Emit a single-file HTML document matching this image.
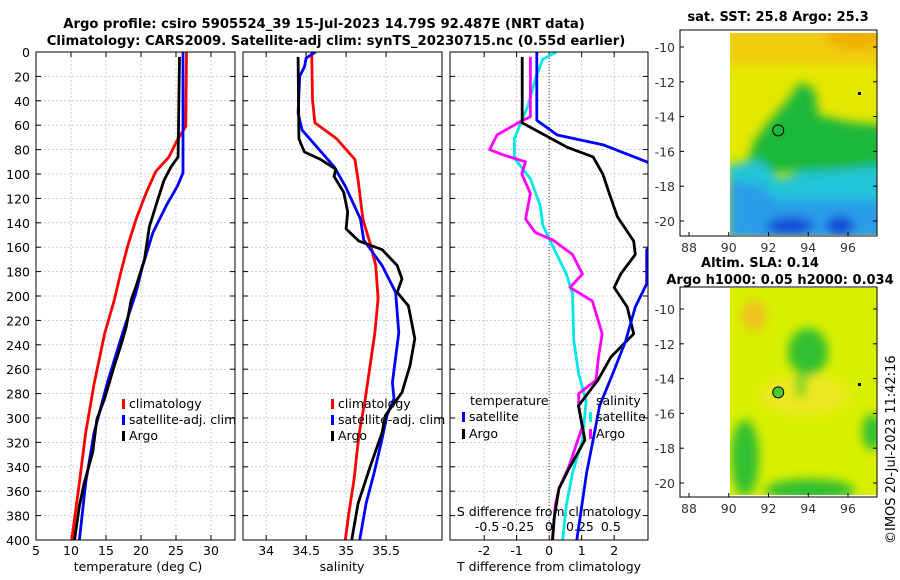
<!DOCTYPE html>
<html><head><meta charset="utf-8"><style>
html,body{margin:0;padding:0;background:#fff;}
svg{display:block;font-family:"DejaVu Sans","Liberation Sans",sans-serif;}
</style></head><body>
<svg id="fig" width="900" height="580" viewBox="0 0 900 580" xmlns="http://www.w3.org/2000/svg">
<defs>
<filter id="blur6" x="-50%" y="-50%" width="200%" height="200%"><feGaussianBlur stdDeviation="5"/></filter>
<clipPath id="cp1"><rect x="36" y="52" width="199" height="488"/></clipPath>
<clipPath id="cp2"><rect x="243" y="52" width="199" height="488"/></clipPath>
<clipPath id="cp3"><rect x="450" y="52" width="198" height="488"/></clipPath>
<clipPath id="cpm1"><rect x="730" y="33" width="147" height="202"/></clipPath>
<clipPath id="cpm2"><rect x="730" y="288" width="147" height="207"/></clipPath>
</defs>
<text x="324" y="28" font-size="13.2" font-weight="bold" text-anchor="middle">Argo profile: csiro 5905524_39 15-Jul-2023 14.79S 92.487E (NRT data)</text>
<text x="336" y="45" font-size="13.2" font-weight="bold" text-anchor="middle">Climatology: CARS2009. Satellite-adj clim: synTS_20230715.nc (0.55d earlier)</text>
<g id="maps"></g>
<g id="charts"></g>
<text transform="translate(895,544) rotate(-90)" font-size="13">©IMOS 20-Jul-2023 11:42:16</text>
</svg>
<script>
// ---- data ----
const depthTicks=[0,20,40,60,80,100,120,140,160,180,200,220,240,260,280,300,320,340,360,380,400];
const tempTicks=[5,10,15,20,25,30];
const salTicks=[34,34.5,35,35.5];
const salTickLabels=["34","34.5","35","35.5"];
const tdiffTicks=[-2,-1,0,1,2];
const sdiffTicks=[-0.5,-0.25,0,0.25,0.5];
const sdiffTickLabels=["-0.5","-0.25","0","0.25","0.5"];

const tClimDepth=[0,61,72,86,98,116,137,159,181,203,231,272,312,353,400];
const tClimVal=[26.5,26.4,25.2,24.0,22.1,20.7,19.3,18.1,17.1,16.2,14.8,13.3,12.1,11.2,10.1];
const tSatDepth=[0,99,110,126,148,176,197,230,271,312,353,400];
const tSatVal=[26.0,26.0,25.2,23.6,21.7,20.2,19.3,17.4,15.2,13.3,12.1,11.2];
const tArgoDepth=[4,86,94,105,121,143,170,192,203,225,241,257,284,301,328,353,372,400];
const tArgoVal=[25.5,25.3,24.3,23.3,22.4,21.2,20.5,19.3,18.6,17.9,17.1,16.2,14.8,13.7,13.1,11.9,11.2,10.5];

const sClimDepth=[0,39,58,71,88,105,137,159,175,202,230,257,284,314,350,380,400];
const sClimVal=[34.57,34.58,34.61,34.88,35.11,35.15,35.21,35.31,35.37,35.40,35.36,35.30,35.24,35.16,35.10,35.03,34.99];
const sSatDepth=[0,5,12,20,50,64,94,110,137,154,175,197,230,271,284,298,317,345,370,400];
const sSatVal=[34.62,34.5,34.48,34.42,34.40,34.45,34.85,34.99,35.18,35.22,35.45,35.62,35.66,35.58,35.60,35.51,35.45,35.35,35.25,35.17];
const sArgoDepth=[4,71,76,82,88,96,102,115,131,145,155,162,175,186,197,208,235,257,279,298,312,340,370,400];
const sArgoVal=[34.40,34.41,34.44,34.48,34.68,34.87,34.85,34.97,35.02,35.00,35.16,35.45,35.64,35.70,35.64,35.78,35.86,35.80,35.70,35.49,35.45,35.30,35.15,35.07];

const dTArgoDepth=[4,58,78,86,100,116,135,155,166,182,193,209,231,250,269,290,318,342,358,383,400];
const dTArgoVal=[-0.83,-0.83,0.55,1.35,1.65,1.85,2.1,2.6,2.65,2.2,2.0,2.4,2.6,1.9,1.5,0.9,1.1,0.6,0.3,0.15,0.1];
const dTSatDepth=[0,56,68,76,90,100,150,162,175,190,209,237,264,290,318,345,400];
const dTSatVal=[-0.38,-0.38,0.25,1.65,3.0,3.6,3.6,3.0,3.0,3.0,2.65,2.35,1.95,1.55,1.35,1.15,0.85];
const dSArgoDepth=[4,53,57,68,80,84,90,100,116,137,148,154,166,182,193,204,231,250,269,280,290,307,340,358,372,400];
const dSArgoVal=[-0.15,-0.15,-0.23,-0.42,-0.48,-0.38,-0.19,-0.22,-0.15,-0.19,-0.11,0.03,0.19,0.27,0.17,0.35,0.43,0.40,0.38,0.24,0.24,0.27,0.16,0.08,0.05,0.03];
const dSSatDepth=[0,6,22,44,71,87,104,126,142,159,182,198,237,264,286,318,345,372,400];
const dSSatVal=[0.06,-0.05,-0.11,-0.17,-0.28,-0.28,-0.15,-0.07,-0.05,0.03,0.14,0.19,0.20,0.24,0.30,0.27,0.19,0.14,0.11];

const lonTicks=[88,90,92,94,96];
const latTicks=[-10,-12,-14,-16,-18,-20];

// ---- helpers ----
const NS="http://www.w3.org/2000/svg";
const charts=document.getElementById('charts');
function el(tag,attrs,parent){const e=document.createElementNS(NS,tag);for(const k in attrs)e.setAttribute(k,attrs[k]);(parent||charts).appendChild(e);return e;}
const Y0=52,Y1=540;
function yD(d){return Y0+(d/400)*(Y1-Y0);}
function lin(d0,d1,r0,r1){return v=>r0+(v-d0)/(d1-d0)*(r1-r0);}

const panels=[
 {x0:36,x1:235,sx:lin(5,33.43,36,235),clip:'cp1'},
 {x0:243,x1:442,sx:lin(33.71,36.2,243,442),clip:'cp2'},
 {x0:450,x1:648,sx:lin(-3.05,3.04,450,648),clip:'cp3'}
];
const sdx=lin(-0.8,0.8,450,648);
function drawGrid(p,ticks,name){
  const g=el('g',{});
  
  
  depthTicks.forEach(d=>{if(d>0&&d<400){el('line',{x1:p.x0,x2:p.x1,y1:yD(d),y2:yD(d),stroke:'#b8c4e6','stroke-width':0.8,'stroke-dasharray':'2,2'},g);}
    el('line',{x1:p.x0,x2:p.x0+5,y1:yD(d),y2:yD(d),stroke:'#000','stroke-width':1},g);
    el('line',{x1:p.x1-5,x2:p.x1,y1:yD(d),y2:yD(d),stroke:'#000','stroke-width':1},g);});
  ticks.forEach(t=>{const x=p.sx(t);if(x>p.x0+1&&x<p.x1-1)el('line',{x1:x,x2:x,y1:Y0,y2:Y1,stroke:'#b8c4e6','stroke-width':0.8,'stroke-dasharray':'2,2'},g);
    el('line',{x1:x,x2:x,y1:Y1-5,y2:Y1,stroke:'#000'},g);el('line',{x1:x,x2:x,y1:Y0,y2:Y0+5,stroke:'#000'},g);});
}
function frame(p,name){const r=el('rect',{x:p.x0,y:Y0,width:p.x1-p.x0,height:Y1-Y0,fill:'none',stroke:'#000','stroke-width':1});
  }
function line(ds,vs,sx,color,name,clip,w){
  const pts=ds.map((d,i)=>sx(vs[i]).toFixed(1)+','+yD(d).toFixed(1)).join(' ');
  const pl=el('polyline',{points:pts,fill:'none',stroke:color,'stroke-width':w||2.8,'stroke-linejoin':'round','clip-path':'url(#'+clip+')'});
  
  
}
function txt(x,y,s,opts,name){const t=el('text',Object.assign({x:x,y:y,'font-size':12.5},opts||{}));t.textContent=s;
  return t;}

drawGrid(panels[0],tempTicks,'temperature');
drawGrid(panels[1],salTicks,'salinity');
drawGrid(panels[2],tdiffTicks,'difference');
const zl=el('line',{x1:panels[2].sx(0),x2:panels[2].sx(0),y1:Y0,y2:Y1,stroke:'#444','stroke-width':1,'stroke-dasharray':'1,2'});


depthTicks.forEach(d=>txt(30,yD(d)+5,String(d),{'text-anchor':'end'},'depth-tick-label'));
tempTicks.forEach(t=>txt(panels[0].sx(t),555,String(t),{'text-anchor':'middle'},'temp-tick-label'));
salTicks.forEach((t,i)=>txt(panels[1].sx(t),555,salTickLabels[i],{'text-anchor':'middle'},'salinity-tick-label'));
tdiffTicks.forEach(t=>txt(panels[2].sx(t),555,String(t),{'text-anchor':'middle'},'tdiff-tick-label'));
sdiffTicks.forEach((t,i)=>txt(sdx(t),531,sdiffTickLabels[i],{'text-anchor':'middle'},'sdiff-tick-label'));
txt(138,571,'temperature (deg C)',{'text-anchor':'middle'},'temperature-axis-title');
txt(342,571,'salinity',{'text-anchor':'middle'},'salinity-axis-title');
txt(549,571,'T difference from climatology',{'text-anchor':'middle'},'tdiff-axis-title');
txt(549,516,'S difference from climatology',{'text-anchor':'middle'},'sdiff-axis-title');

line(tClimDepth,tClimVal,panels[0].sx,'#ff0000','temp-climatology-line','cp1');
line(tSatDepth,tSatVal,panels[0].sx,'#0000ff','temp-satellite-line','cp1');
line(tArgoDepth,tArgoVal,panels[0].sx,'#000000','temp-argo-line','cp1');
line(sClimDepth,sClimVal,panels[1].sx,'#ff0000','sal-climatology-line','cp2');
line(sSatDepth,sSatVal,panels[1].sx,'#0000ff','sal-satellite-line','cp2');
line(sArgoDepth,sArgoVal,panels[1].sx,'#000000','sal-argo-line','cp2');
line(dSSatDepth,dSSatVal,sdx,'#00e8e8','sdiff-satellite-line','cp3');
line(dSArgoDepth,dSArgoVal,sdx,'#ff00ff','sdiff-argo-line','cp3');
line(dTArgoDepth,dTArgoVal,panels[2].sx,'#000000','tdiff-argo-line','cp3');
line(dTSatDepth,dTSatVal,panels[2].sx,'#0000ff','tdiff-satellite-line','cp3');

frame(panels[0],'temperature-panel');frame(panels[1],'salinity-panel');frame(panels[2],'difference-panel');

function legend(x,y,color,label,name){
  const m=el('rect',{x:x,y:y-9,width:3,height:10,fill:color});
  
  txt(x+7,y,label,{},name);
}
legend(122,408,'#ff0000','climatology','legend-climatology');
legend(122,424,'#0000ff','satellite-adj. clim','legend-satellite');
legend(122,440,'#000000','Argo','legend-argo');
legend(331,408,'#ff0000','climatology','legend-sal-climatology');
legend(331,424,'#0000ff','satellite-adj. clim','legend-sal-satellite');
legend(331,440,'#000000','Argo','legend-sal-argo');
txt(470,405,'temperature',{},'legend-temperature-header');
legend(462,421,'#0000ff','satellite','legend-tdiff-satellite');
legend(462,438,'#000000','Argo','legend-tdiff-argo');
txt(596,405,'salinity',{},'legend-salinity-header');
legend(589,421,'#00e8e8','satellite','legend-sdiff-satellite');
legend(589,438,'#ff00ff','Argo','legend-sdiff-argo');

// ---- maps ----
const maps=document.getElementById('maps');
function mel(tag,attrs,parent){const e=document.createElementNS(NS,tag);for(const k in attrs)e.setAttribute(k,attrs[k]);(parent||maps).appendChild(e);return e;}
function mapAxes(top,bottom,latY,name){
  const lonX=lin(88,96,689,848);
  const g=mel('g',{});
  lonTicks.forEach(l=>{const x=lonX(l);mel('line',{x1:x,x2:x,y1:bottom-4,y2:bottom,stroke:'#000'},g);
    const t=mel('text',{x:x,y:bottom+16,'font-size':12.5,'text-anchor':'middle',fill:'#333'},g);t.textContent=String(l);
    });
  latTicks.forEach(l=>{const y=latY(l);mel('line',{x1:680,x2:684,y1:y,y2:y,stroke:'#000'},g);mel('line',{x1:873,x2:877,y1:y,y2:y,stroke:'#000'},g);
    const t=mel('text',{x:675,y:y+5,'font-size':12.5,'text-anchor':'end',fill:'#333'},g);t.textContent=String(l);
    });
  mel('rect',{x:680,y:top,width:197,height:bottom-top,fill:'none',stroke:'#000'},g);
  return {cx:lonX(92.49),cy:latY(-14.79)};
}
// top SST map
const lat1=lin(-10,-20,47,221);
const sst=mel('g',{'clip-path':'url(#cpm1)'});
mel('rect',{x:730,y:33,width:147,height:202,fill:'#e4e800'},sst);
const sb=mel('g',{filter:'url(#blur6)'},sst);
mel('rect',{x:725,y:25,width:160,height:40,fill:'#f0cc10'},sb);
mel('ellipse',{cx:855,cy:36,rx:30,ry:14,fill:'#f0b000'},sb);
mel('polygon',{points:'788,100 800,82 815,90 818,115 850,122 885,125 885,172 760,172 748,160 755,140 770,120',fill:'#1cb83a'},sb);
mel('polygon',{points:'728,165 760,160 780,180 800,172 840,170 885,165 885,240 728,240',fill:'#22c4d8'},sb);
mel('polygon',{points:'728,180 760,185 775,200 885,200 885,240 728,240',fill:'#2c9ce8'},sb);
mel('ellipse',{cx:790,cy:226,rx:24,ry:9,fill:'#1848d8'},sb);
mel('ellipse',{cx:840,cy:226,rx:14,ry:10,fill:'#1848d8'},sb);
const a1=mapAxes(30,236,lat1,'sst-map-axes');
const c1=mel('circle',{cx:a1.cx,cy:a1.cy,r:5.5,fill:'none',stroke:'#000','stroke-width':1});

mel('rect',{x:858,y:92,width:3,height:3,fill:'#000'});
const t1=mel('text',{x:778,y:21,'font-size':13,'font-weight':'bold','text-anchor':'middle'});t1.textContent='sat. SST: 25.8 Argo: 25.3';

// bottom SLA map
const lat2=lin(-10,-20,309,483);
const sla=mel('g',{'clip-path':'url(#cpm2)'});
mel('rect',{x:730,y:288,width:147,height:207,fill:'#d8f000'},sla);
const lb=mel('g',{filter:'url(#blur6)'},sla);
mel('ellipse',{cx:754,cy:316,rx:13,ry:15,fill:'#f0c020'},lb);
mel('ellipse',{cx:805,cy:395,rx:45,ry:20,fill:'#ece820'},lb);
mel('ellipse',{cx:808,cy:352,rx:20,ry:24,fill:'#30c030'},lb);
mel('ellipse',{cx:801,cy:385,rx:5,ry:14,fill:'#60d020'},lb);
mel('ellipse',{cx:745,cy:458,rx:14,ry:38,fill:'#30c030'},lb);
mel('ellipse',{cx:810,cy:490,rx:45,ry:11,fill:'#30c030'},lb);
mel('ellipse',{cx:872,cy:432,rx:10,ry:18,fill:'#30c030'},lb);
const a2=mapAxes(287,497,lat2,'sla-map-axes');
const c2=mel('circle',{cx:a2.cx,cy:a2.cy,r:5.5,fill:'#50c830',stroke:'#000','stroke-width':1});

mel('rect',{x:858,y:383,width:3,height:3,fill:'#000'});
const t2=mel('text',{x:760,y:267,'font-size':13,'font-weight':'bold','text-anchor':'middle'});t2.textContent='Altim. SLA: 0.14';

const t3=mel('text',{x:780,y:284,'font-size':13,'font-weight':'bold','text-anchor':'middle'});t3.textContent='Argo h1000: 0.05 h2000: 0.034';

</script>
</body></html>
